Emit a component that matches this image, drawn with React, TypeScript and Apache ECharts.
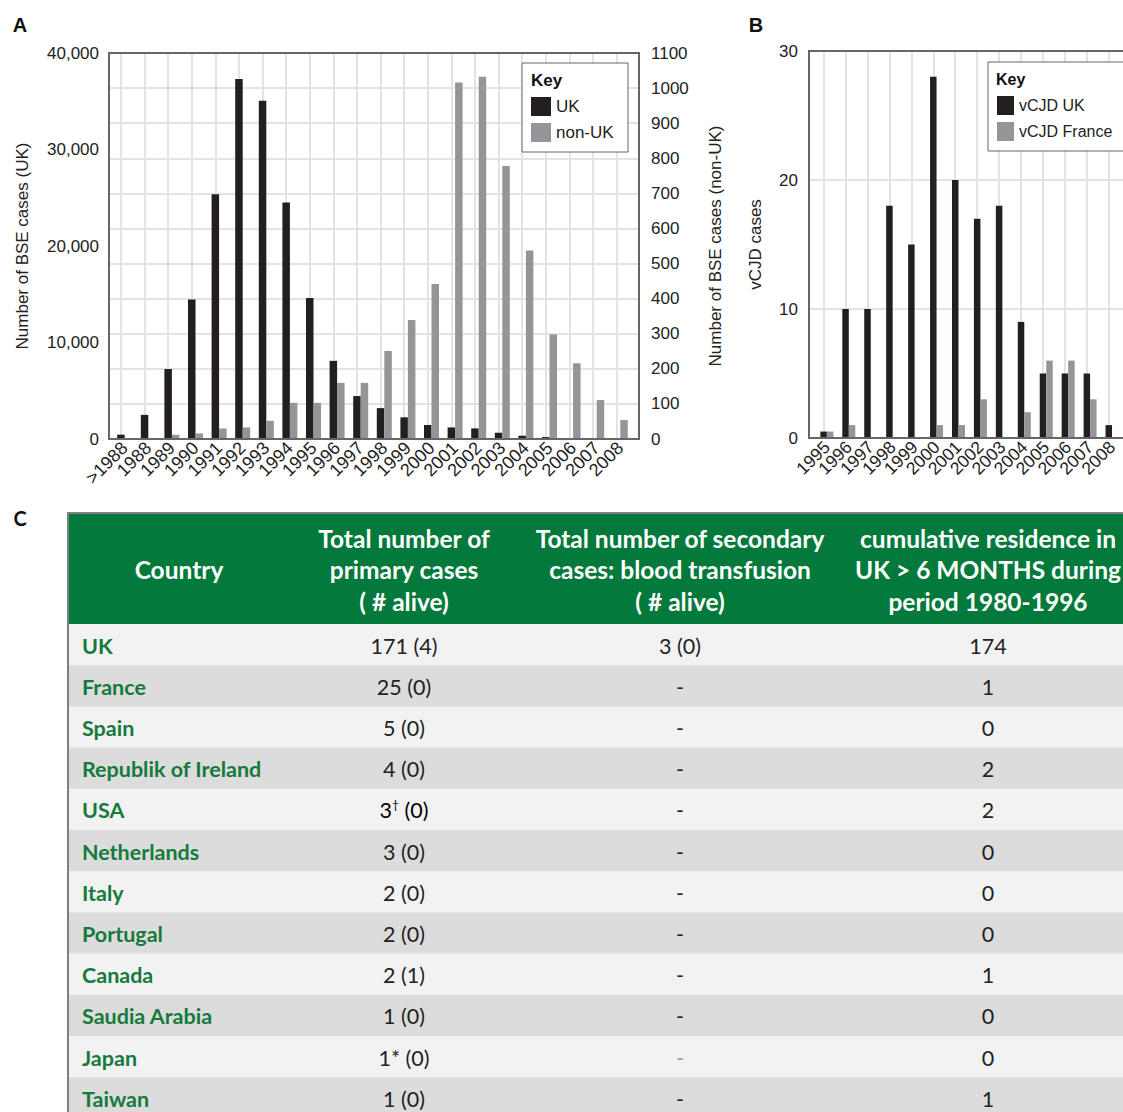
import React, { useEffect, useRef } from "react";
import * as echarts from "echarts";

// ---------- DATA ----------
const catsA = [">1988", "1988", "1989", "1990", "1991", "1992", "1993", "1994", "1995", "1996", "1997", "1998", "1999", "2000", "2001", "2002", "2003", "2004", "2005", "2006", "2007", "2008"];
const bseUK = [450, 2500, 7250, 14450, 25350, 37300, 35050, 24500, 14600, 8100, 4450, 3200, 2250, 1450, 1200, 1100, 650, 340, 200, 0, 0, 0];
const bseNonUK = [0, 0, 12, 16, 30, 33, 52, 103, 103, 160, 160, 251, 339, 442, 1016, 1032, 778, 537, 298, 216, 111, 54];
const ticksUK = [0, 10000, 20000, 30000, 40000];
const ticksNonUK = [0, 1100];

const catsB = ["1995", "1996", "1997", "1998", "1999", "2000", "2001", "2002", "2003", "2004", "2005", "2006", "2007", "2008"];
const vcjdUK = [0.5, 10, 10, 18, 15, 28, 20, 17, 18, 9, 5, 5, 5, 1];
const vcjdFrance = [0.5, 1, 0, 0, 0, 1, 1, 3, 0, 2, 6, 6, 3, 0];
const ticksVcjd = [0, 30];

const tableHeaders = [
  "Country",
  "Total number of\nprimary cases\n( # alive)",
  "Total number of secondary\ncases: blood transfusion\n( # alive)",
  "cumulative residence in\nUK > 6 MONTHS during\nperiod 1980-1996",
];
const countries = ["UK", "France", "Spain", "Republik of Ireland", "USA", "Netherlands", "Italy", "Portugal", "Canada", "Saudia Arabia", "Japan", "Taiwan"];
const primaryCases = ["171 (4)", "25 (0)", "5 (0)", "4 (0)", "3† (0)", "3 (0)", "2 (0)", "2 (0)", "2 (1)", "1 (0)", "1* (0)", "1 (0)"];
const secondaryCases = ["3 (0)", "-", "-", "-", "-", "-", "-", "-", "-", "-", "-", "-"];
const ukResidence = ["174", "1", "0", "2", "2", "0", "0", "0", "1", "0", "0", "1"];

// ---------- STYLE ----------
const SANS = "'Liberation Sans', Arial, sans-serif";
const TFONT = "Lato, 'Open Sans', sans-serif";
const BLACK = "#231f20";
const GREY = "#939598";
const GRIDC = "#e3e3e3";
const FRAME = "#666";
const GREEN = "#03793c";
const GREEN_TXT = "#157a3c";

function buildTable(): any[] {
  const els: any[] = [];
  const top = 513;
  const headH = 111;
  const rowH = 41.2;
  const colCenters = [179, 404, 680, 988];
  els.push({ type: "rect", shape: { x: 68, y: top, width: 1070, height: headH }, style: { fill: GREEN }, z: 1 });
  countries.forEach((_, i) => {
    els.push({
      type: "rect",
      shape: { x: 68, y: top + headH + i * rowH, width: 1070, height: rowH + 0.5 },
      style: { fill: i % 2 === 0 ? "#f2f2f2" : "#dcdcdc" },
      z: 1,
    });
  });
  els.push({ type: "line", shape: { x1: 68, y1: top - 1, x2: 68, y2: 1112 }, style: { stroke: "#7f7f7f", lineWidth: 2 }, z: 2 });
  els.push({ type: "line", shape: { x1: 67, y1: top, x2: 1123, y2: top }, style: { stroke: "#7f7f7f", lineWidth: 2 }, z: 2 });
  tableHeaders.forEach((h, j) => {
    els.push({
      type: "text",
      x: colCenters[j],
      y: top + headH / 2 + 1,
      style: {
        text: h,
        fill: "#fff",
        fontSize: 24.5,
        fontWeight: "bold",
        fontFamily: TFONT,
        lineHeight: 31.5,
        textAlign: "center",
        textVerticalAlign: "middle",
      },
      z: 3,
    });
  });
  const valStyle = { fontSize: 21.5, fontFamily: TFONT, fill: "#222" };
  countries.forEach((c, i) => {
    const cy = top + headH + i * rowH + rowH / 2 + 1;
    els.push({
      type: "text",
      x: 82,
      y: cy,
      style: { text: c, fill: GREEN_TXT, fontSize: 21.5, fontWeight: "bold", fontFamily: TFONT, textAlign: "left", textVerticalAlign: "middle" },
      z: 3,
    });
    const p = primaryCases[i];
    if (p.includes("†")) {
      const [a, b] = p.split("†");
      els.push({
        type: "text",
        x: colCenters[1],
        y: cy,
        style: {
          text: `{n|${a}}{s|†}{n|${b}}`,
          textAlign: "center",
          textVerticalAlign: "middle",
          rich: {
            n: { fontSize: 21.5, fontFamily: TFONT, color: "#222", lineHeight: 24 },
            s: { fontSize: 12, fontFamily: TFONT, color: "#222", verticalAlign: "top", lineHeight: 24 },
          },
        },
        z: 3,
      });
    } else {
      els.push({ type: "text", x: colCenters[1], y: cy, style: { ...valStyle, text: p, textAlign: "center", textVerticalAlign: "middle" }, z: 3 });
    }
    els.push({
      type: "text",
      x: colCenters[2],
      y: cy,
      style: { ...valStyle, fill: i === 10 ? "#999" : "#222", text: secondaryCases[i], textAlign: "center", textVerticalAlign: "middle" },
      z: 3,
    });
    els.push({ type: "text", x: colCenters[3], y: cy, style: { ...valStyle, text: ukResidence[i], textAlign: "center", textVerticalAlign: "middle" }, z: 3 });
  });
  els.push({ type: "text", x: 20, y: 518, style: { text: "C", fontSize: 20, fontWeight: "bold", fontFamily: TFONT, fill: "#111", textAlign: "center", textVerticalAlign: "middle" }, z: 3 });
  return els;
}

function buildOption(): any {
  const catAxisLabel = (fs: number) => ({ rotate: 45, interval: 0, fontSize: fs, color: "#222", margin: 6, fontFamily: SANS });
  const valLabel = { fontSize: 17, color: "#222", fontFamily: SANS };
  const nameStyle = { fontSize: 17, color: "#222", fontFamily: SANS };
  const vLine = (cats: string[]) => ({
    silent: true,
    symbol: ["none", "none"],
    label: { show: false },
    emphasis: { disabled: true },
    lineStyle: { color: GRIDC, width: 2, type: "solid" },
    z: 1,
    data: cats.map((c) => ({ xAxis: c })),
  });

  return {
    animation: false,
    backgroundColor: "#fff",
    textStyle: { fontFamily: SANS },
    grid: [
      { left: 109, top: 53, width: 530, height: 386 },
      { left: 112.9, top: 53, width: 519.2, height: 386 },
      { left: 809, top: 51, width: 340, height: 387 },
      { left: 815.9, top: 51, width: 312.2, height: 387 },
    ],
    xAxis: [
      { gridIndex: 0, type: "value", min: 0, max: 1, show: false },
      { gridIndex: 1, type: "category", data: catsA, axisLine: { show: false }, axisTick: { show: false }, splitLine: { show: false }, axisLabel: catAxisLabel(18) },
      { gridIndex: 2, type: "value", min: 0, max: 1, show: false },
      { gridIndex: 3, type: "category", data: catsB, axisLine: { show: false }, axisTick: { show: false }, splitLine: { show: false }, axisLabel: catAxisLabel(17.5) },
    ],
    yAxis: [
      {
        gridIndex: 0, type: "value", position: "left",
        min: ticksUK[0], max: ticksUK[ticksUK.length - 1], interval: ticksUK[1] - ticksUK[0],
        axisLine: { show: false }, axisTick: { show: false }, splitLine: { show: false },
        axisLabel: { ...valLabel, margin: 10, formatter: (v: number) => v.toLocaleString("en-US") },
        name: "Number of BSE cases (UK)", nameLocation: "middle", nameRotate: 90, nameGap: 78, nameTextStyle: nameStyle,
      },
      {
        gridIndex: 0, type: "value", position: "right",
        min: ticksNonUK[0], max: ticksNonUK[1], interval: 100,
        axisLine: { show: false }, axisTick: { show: false },
        splitLine: { show: true, lineStyle: { color: GRIDC, width: 2 } },
        axisLabel: { ...valLabel, margin: 12, formatter: (v: number) => String(v) },
        name: "Number of BSE cases (non-UK)", nameLocation: "middle", nameRotate: 90, nameGap: 68, nameTextStyle: nameStyle,
      },
      { gridIndex: 1, type: "value", min: ticksUK[0], max: ticksUK[ticksUK.length - 1], show: false },
      { gridIndex: 1, type: "value", min: ticksNonUK[0], max: ticksNonUK[1], show: false },
      {
        gridIndex: 2, type: "value", position: "left",
        min: ticksVcjd[0], max: ticksVcjd[1], interval: 10,
        axisLine: { show: false }, axisTick: { show: false },
        splitLine: { show: true, lineStyle: { color: GRIDC, width: 2 } },
        axisLabel: { ...valLabel, margin: 11 },
        name: "vCJD cases", nameLocation: "middle", nameRotate: 90, nameGap: 45, nameTextStyle: nameStyle,
      },
      { gridIndex: 3, type: "value", min: ticksVcjd[0], max: ticksVcjd[1], show: false },
    ],
    legend: [
      {
        data: ["UK", "non-UK"], orient: "vertical", left: 531, top: 97, padding: 0,
        itemWidth: 20, itemHeight: 19, itemGap: 7, icon: "rect", selectedMode: false, z: 20,
        textStyle: { fontSize: 17, color: "#222", fontFamily: SANS },
      },
      {
        data: ["vCJD UK", "vCJD France"], orient: "vertical", left: 997, top: 96, padding: 0,
        itemWidth: 17, itemHeight: 19, itemGap: 7, icon: "rect", selectedMode: false, z: 20,
        textStyle: { fontSize: 16, color: "#222", fontFamily: SANS },
      },
    ],
    series: [
      { name: "UK", type: "bar", xAxisIndex: 1, yAxisIndex: 2, data: bseUK, barWidth: 7.5, barGap: "0%", itemStyle: { color: BLACK }, z: 2, markLine: vLine(catsA) },
      { name: "non-UK", type: "bar", xAxisIndex: 1, yAxisIndex: 3, data: bseNonUK, barWidth: 7.5, barGap: "0%", itemStyle: { color: GREY }, z: 2 },
      { name: "vCJD UK", type: "bar", xAxisIndex: 3, yAxisIndex: 5, data: vcjdUK, barWidth: 6.5, barGap: "0%", itemStyle: { color: BLACK }, z: 2, markLine: vLine(catsB) },
      { name: "vCJD France", type: "bar", xAxisIndex: 3, yAxisIndex: 5, data: vcjdFrance, barWidth: 6.5, barGap: "0%", itemStyle: { color: GREY }, z: 2 },
    ],
    graphic: [
      { type: "rect", shape: { x: 109, y: 53, width: 530, height: 386 }, style: { fill: "none", stroke: FRAME, lineWidth: 2 }, z: 6, silent: true },
      { type: "rect", shape: { x: 809, y: 51, width: 340, height: 387 }, style: { fill: "none", stroke: FRAME, lineWidth: 2 }, z: 6, silent: true },
      { type: "rect", shape: { x: 522, y: 63, width: 106, height: 89 }, style: { fill: "#fff", stroke: FRAME, lineWidth: 1 }, z: 10 },
      { type: "text", x: 531, y: 80, style: { text: "Key", fontSize: 17, fontWeight: "bold", fontFamily: SANS, fill: "#111", textVerticalAlign: "middle" }, z: 11 },
      { type: "rect", shape: { x: 988, y: 62, width: 160, height: 89 }, style: { fill: "#fff", stroke: FRAME, lineWidth: 1 }, z: 10 },
      { type: "text", x: 996, y: 79, style: { text: "Key", fontSize: 16, fontWeight: "bold", fontFamily: SANS, fill: "#111", textVerticalAlign: "middle" }, z: 11 },
      { type: "text", x: 20, y: 25, style: { text: "A", fontSize: 20, fontWeight: "bold", fontFamily: SANS, fill: "#111", textAlign: "center", textVerticalAlign: "middle" } },
      { type: "text", x: 756, y: 25, style: { text: "B", fontSize: 20, fontWeight: "bold", fontFamily: SANS, fill: "#111", textAlign: "center", textVerticalAlign: "middle" } },
      ...buildTable(),
    ],
  };
}

export default function App() {
  const ref = useRef<HTMLDivElement>(null);
  useEffect(() => {
    if (!ref.current) return;
    const chart = echarts.init(ref.current, null, { renderer: "svg" });
    chart.setOption(buildOption());
    return () => chart.dispose();
  }, []);
  return <div ref={ref} style={{ position: "absolute", left: 0, top: 0, width: 1123, height: 1112, background: "#fff" }} />;
}
